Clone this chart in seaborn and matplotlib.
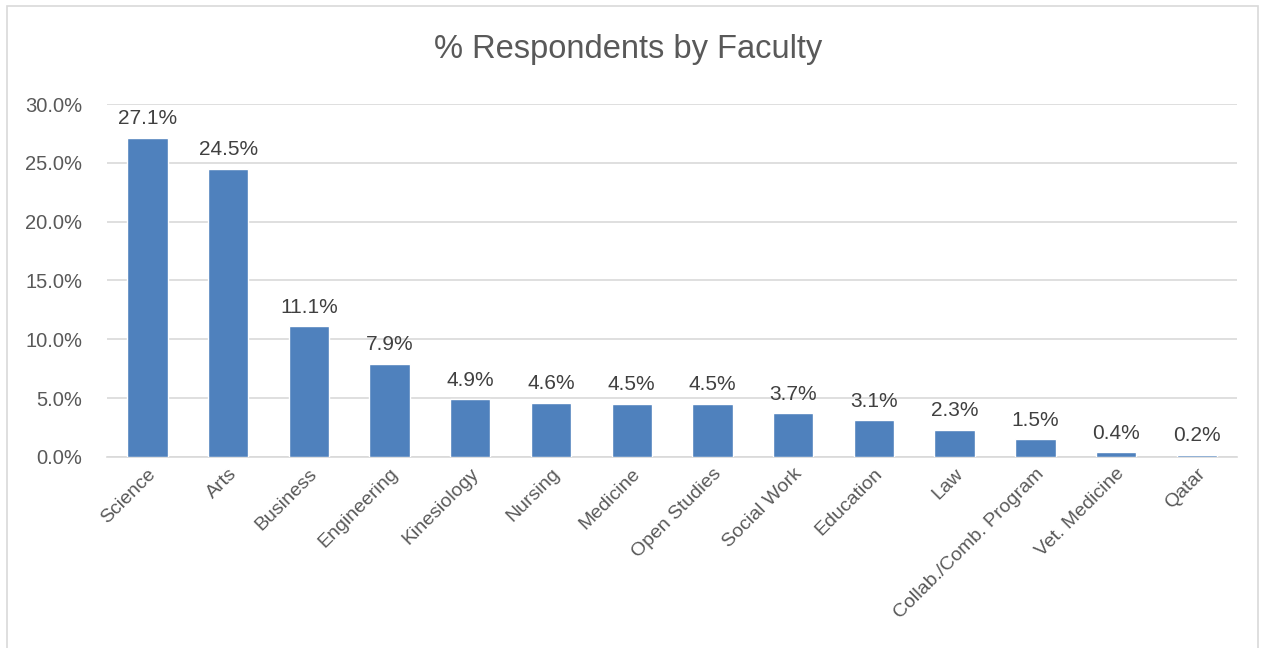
import matplotlib
matplotlib.use("Agg")
import matplotlib.pyplot as plt
import seaborn as sns
import pandas as pd
from matplotlib.patches import Rectangle
from matplotlib.ticker import PercentFormatter

# data
faculties = ["Science", "Arts", "Business", "Engineering", "Kinesiology", "Nursing",
             "Medicine", "Open Studies", "Social Work", "Education", "Law",
             "Collab./Comb. Program", "Vet. Medicine", "Qatar"]
percents = [27.1, 24.5, 11.1, 7.9, 4.9, 4.6, 4.5, 4.5, 3.7, 3.1, 2.3, 1.5, 0.4, 0.2]
y_ticks = [0, 5, 10, 15, 20, 25, 30]

df = pd.DataFrame({"faculty": faculties, "pct": percents})

sns.set_style("white")
plt.rcParams['font.family'] = ['Liberation Sans', 'DejaVu Sans']

TEXT = "#595959"
GRID = "#D9D9D9"
BAR = "#4F81BD"

fig = plt.figure(figsize=(12.65, 6.48), dpi=100)
ax = fig.add_axes([0.0846, 0.2948, 0.8934, 0.5447])

sns.barplot(data=df, x="faculty", y="pct", color=BAR, width=0.5, saturation=1,
            ax=ax, zorder=3)

for i, v in enumerate(percents):
    ax.annotate(f"{v:.1f}%", (i, v), xytext=(0, 7), textcoords="offset points",
                ha="center", va="bottom", fontsize=15, color="#404040")

ax.set_ylim(0, 30)
ax.set_xlim(-0.5, len(faculties) - 0.5)
ax.set_yticks(y_ticks)
ax.yaxis.set_major_formatter(PercentFormatter(decimals=1))
ax.grid(axis='y', color=GRID, linewidth=1.2, zorder=0)
for s in ["top", "right", "left"]:
    ax.spines[s].set_visible(False)
ax.spines["bottom"].set_color(GRID)
ax.spines["bottom"].set_linewidth(1.2)
ax.tick_params(axis='both', length=0, labelcolor=TEXT)
ax.tick_params(axis='y', pad=18, labelsize=14.5)
ax.tick_params(axis='x', pad=6, labelsize=14)
plt.setp(ax.get_xticklabels(), rotation=45, ha="right", rotation_mode="anchor")
ax.set_xlabel("")
ax.set_ylabel("")

fig.text(0.4966, 0.924, "% Respondents by Faculty", ha="center", va="center",
         fontsize=23.5, color=TEXT)

# light chart-area border
fig.patches.append(Rectangle((7 / 1265, -0.01), 1251 / 1265, 1 - 6 / 648 + 0.01,
                             transform=fig.transFigure, fill=False,
                             edgecolor=GRID, linewidth=1.2))

fig.savefig("out.png", dpi=100)
